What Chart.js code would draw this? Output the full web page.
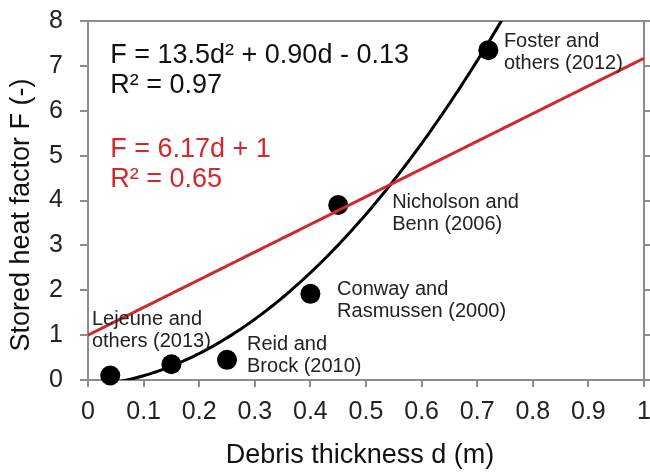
<!DOCTYPE html>
<html>
<head>
<meta charset="utf-8">
<script src="https://cdn.jsdelivr.net/npm/chart.js@4.4.1/dist/chart.umd.min.js"></script>
<style>
	html, body { margin: 0; padding: 0; background: #fff; }
	#wrap { width: 650px; height: 473px; }
</style>
</head>
<body>
<div id="wrap"><canvas id="heatChart" width="650" height="473"></canvas></div>
<script>
// Measured sites: debris thickness (m) and stored heat factor
var thickness = [0.04, 0.15, 0.25, 0.40, 0.45, 0.72];
var heatFactor = [0.10, 0.35, 0.45, 1.92, 3.90, 7.35];
var studies = [
	['Lejeune and', 'others (2013)'],
	['Reid and', 'Brock (2010)'],
	['Conway and', 'Rasmussen (2000)'],
	['Nicholson and', 'Benn (2006)'],
	['Foster and', 'others (2012)']
];

// Fitted curves: F = a d^2 + b d + c  and  F = m d + k
var quadFit = [13.5, 0.90, -0.13];
var linFit = [6.17, 1];
var rSquared = [0.97, 0.65];

// Axis ticks
var xTicks = [0, 0.1, 0.2, 0.3, 0.4, 0.5, 0.6, 0.7, 0.8, 0.9, 1];
var xTickLabels = ['0', '0.1', '0.2', '0.3', '0.4', '0.5', '0.6', '0.7', '0.8', '0.9', '1'];
var yTicks = [0, 1, 2, 3, 4, 5, 6, 7, 8];

var FONT = '"Liberation Sans", Arial, sans-serif';
var AXIS_GREY = '#8c8c8c';
var RED = '#d2282c';

var points = thickness.map(function(d, i) { return { x: d, y: heatFactor[i] }; });

// sample the two fits along the x range
var quadLine = [];
var straightLine = [];
for (var s = 0; s <= 200; s++) {
	var d = s / 200;
	quadLine.push({ x: d, y: quadFit[0] * d * d + quadFit[1] * d + quadFit[2] });
	straightLine.push({ x: d, y: linFit[0] * d + linFit[1] });
}

var quadText = 'F = ' + quadFit[0] + 'd\u00b2 + ' + quadFit[1].toFixed(2) + 'd - ' + Math.abs(quadFit[2]).toFixed(2);
var linText = 'F = ' + linFit[0] + 'd + ' + linFit[1];

// text placed in axis units (left edge, first baseline)
var notes = [
	{ lines: [quadText, 'R\u00b2 = ' + rSquared[0].toFixed(2)], x: 0.04, y: 7.06, size: 27, gap: 30, color: '#111' },
	{ lines: [linText, 'R\u00b2 = ' + rSquared[1].toFixed(2)], x: 0.04, y: 4.97, size: 27, gap: 30, color: RED },
	{ lines: studies[0], x: 0.007, y: 1.23, size: 20, gap: 22, color: '#222' },
	{ lines: studies[1], x: 0.286, y: 0.67, size: 20, gap: 22, color: '#222' },
	{ lines: studies[2], x: 0.448, y: 1.89, size: 20, gap: 22, color: '#222' },
	{ lines: studies[3], x: 0.547, y: 3.83, size: 20, gap: 22, color: '#222' },
	{ lines: studies[4], x: 0.748, y: 7.42, size: 20, gap: 22, color: '#222' }
];

var textPlugin = {
	id: 'textNotes',
	afterDatasetsDraw: function(chart) {
		var ctx = chart.ctx;
		var xs = chart.scales.x, ys = chart.scales.y;
		ctx.save();
		ctx.textAlign = 'left';
		ctx.textBaseline = 'alphabetic';
		notes.forEach(function(n) {
			ctx.font = n.size + 'px ' + FONT;
			ctx.fillStyle = n.color;
			var px = xs.getPixelForValue(n.x);
			var py = ys.getPixelForValue(n.y);
			n.lines.forEach(function(line, i) {
				ctx.fillText(line, px, py + i * n.gap);
			});
		});

		// axis titles
		ctx.fillStyle = '#111';
		ctx.font = '27px ' + FONT;
		ctx.textAlign = 'center';
		ctx.textBaseline = 'middle';
		ctx.fillText('Debris thickness d (m)', 360, 456);
		ctx.translate(22, 215);
		ctx.rotate(-Math.PI / 2);
		ctx.fillText('Stored heat factor F (-)', 0, 0);
		ctx.restore();
	}
};

var tickGrid = function(len) {
	return { display: true, drawOnChartArea: false, drawTicks: true, tickLength: len, color: AXIS_GREY, lineWidth: 2 };
};
var axisBorder = { display: true, color: AXIS_GREY, width: 2 };

// fixed box sizes so the plot area lands at the same place every time
var fixBox = function(w, h) {
	return function(scale) {
		if (w !== null) scale.width = w;
		if (h !== null) scale.height = h;
		scale.paddingLeft = 0;
		scale.paddingRight = 0;
		scale.paddingTop = 0;
		scale.paddingBottom = 0;
	};
};

var heatChart = new Chart(document.getElementById('heatChart'), {
	type: 'scatter',
	data: {
		datasets: [
			{
				type: 'line',
				data: straightLine,
				borderColor: RED,
				borderWidth: 3,
				pointRadius: 0,
				fill: false,
				order: 0,
				clip: 0
			},
			{
				type: 'line',
				data: quadLine,
				borderColor: '#000',
				borderWidth: 3,
				pointRadius: 0,
				fill: false,
				order: 1,
				clip: 0
			},
			{
				data: points,
				pointRadius: 10,
				pointBackgroundColor: '#000',
				pointBorderColor: '#000',
				pointBorderWidth: 0,
				order: 2,
				clip: false
			}
		]
	},
	options: {
		responsive: false,
		animation: false,
		events: [],
		layout: { padding: 0, autoPadding: false },
		plugins: {
			legend: { display: false },
			tooltip: { enabled: false }
		},
		scales: {
			x: {
				type: 'linear',
				position: 'bottom',
				min: 0,
				max: 1,
				afterBuildTicks: function(scale) {
					scale.ticks = xTicks.map(function(v) { return { value: v }; });
				},
				afterFit: fixBox(null, 93),
				grid: tickGrid(7),
				border: axisBorder,
				ticks: {
					padding: 10,
					maxRotation: 0,
					autoSkip: false,
					color: '#222',
					font: { family: FONT, size: 25 },
					callback: function(value, i) { return xTickLabels[i]; }
				}
			},
			x2: {
				type: 'linear',
				position: 'top',
				min: 0,
				max: 1,
				afterFit: fixBox(null, 21),
				grid: { display: false },
				border: axisBorder,
				ticks: { display: false }
			},
			y: {
				type: 'linear',
				position: 'left',
				min: 0,
				max: 8,
				afterBuildTicks: function(scale) {
					scale.ticks = yTicks.map(function(v) { return { value: v }; });
				},
				afterFit: fixBox(88, null),
				grid: tickGrid(8),
				border: axisBorder,
				ticks: {
					padding: 17,
					color: '#222',
					font: { family: FONT, size: 25 }
				}
			},
			y2: {
				type: 'linear',
				position: 'right',
				min: 0,
				max: 8,
				afterBuildTicks: function(scale) {
					scale.ticks = yTicks.map(function(v) { return { value: v }; });
				},
				afterFit: fixBox(6, null),
				grid: tickGrid(6),
				border: axisBorder,
				ticks: { display: false }
			}
		}
	},
	plugins: [textPlugin]
});
</script>
</body>
</html>
